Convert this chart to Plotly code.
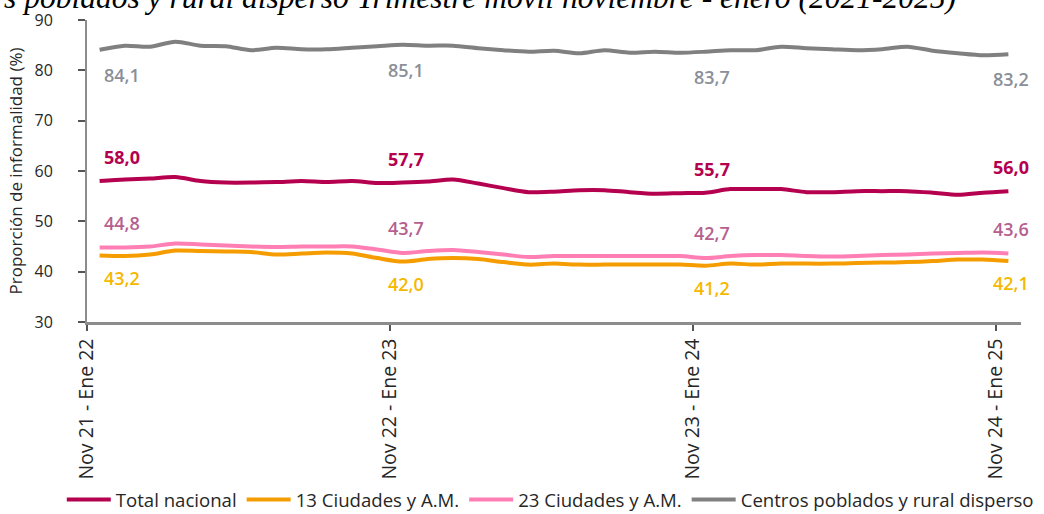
import plotly.graph_objects as go

# ---- data -------------------------------------------------------------
months = ["Ene", "Feb", "Mar", "Abr", "May", "Jun", "Jul", "Ago", "Sep", "Oct", "Nov", "Dic"]
periods = []
for k in range(37):
    m0 = 10 + k  # Nov 2021 start
    y0, mm0 = 21 + m0 // 12, m0 % 12
    m2 = m0 + 2
    y2, mm2 = 21 + m2 // 12, m2 % 12
    periods.append(f"{months[mm0]} {y0} - {months[mm2]} {y2}")

tick_labels = ["Nov 21 - Ene 22", "Nov 22 - Ene 23", "Nov 23 - Ene 24", "Nov 24 - Ene 25"]

total_nacional = [58.0, 58.3, 58.5, 58.8, 58.0, 57.7, 57.7, 57.8, 58.0, 57.8, 58.0, 57.6,
                  57.7, 57.9, 58.3, 57.5, 56.6, 55.8, 55.9, 56.2, 56.2, 55.8, 55.5, 55.6,
                  55.7, 56.4, 56.4, 56.4, 55.8, 55.8, 56.0, 56.0, 56.0, 55.7, 55.3, 55.7, 56.0]
ciudades_13 = [43.2, 43.1, 43.4, 44.2, 44.1, 44.0, 43.9, 43.4, 43.6, 43.8, 43.6, 42.7,
               42.0, 42.5, 42.7, 42.5, 41.9, 41.4, 41.6, 41.4, 41.4, 41.4, 41.4, 41.4,
               41.2, 41.6, 41.4, 41.6, 41.6, 41.6, 41.7, 41.8, 41.9, 42.1, 42.4, 42.4, 42.1]
ciudades_23 = [44.8, 44.8, 45.0, 45.6, 45.4, 45.2, 45.0, 44.9, 45.0, 45.0, 45.0, 44.4,
               43.7, 44.1, 44.3, 43.9, 43.4, 42.9, 43.1, 43.1, 43.1, 43.1, 43.1, 43.1,
               42.7, 43.1, 43.3, 43.3, 43.1, 43.0, 43.1, 43.3, 43.4, 43.6, 43.7, 43.8, 43.6]
centros_rural = [84.1, 84.9, 84.7, 85.7, 84.9, 84.8, 84.0, 84.5, 84.2, 84.2, 84.5, 84.8,
                 85.1, 84.9, 84.9, 84.4, 84.0, 83.7, 83.9, 83.4, 84.0, 83.5, 83.7, 83.5,
                 83.7, 84.0, 84.0, 84.7, 84.4, 84.2, 84.0, 84.2, 84.7, 83.9, 83.4, 83.0, 83.2]

series_names = ["Total nacional", "13 Ciudades y A.M.", "23 Ciudades y A.M.",
                "Centros poblados y rural disperso"]
label_idx = [0, 12, 24, 36]

# ---- styles -----------------------------------------------------------
series = [
    dict(name=series_names[0], y=total_nacional, color="#B4004E", lab="#B4004E", dy=24, w=700),
    dict(name=series_names[1], y=ciudades_13, color="#F59D00", lab="#F5B800", dy=-22, w=600),
    dict(name=series_names[2], y=ciudades_23, color="#FF7FB5", lab="#B5608F", dy=25, w=600),
    dict(name=series_names[3], y=centros_rural, color="#808080", lab="#8A8F99", dy=-25, w=600),
]
xshift_for = {0: 22, 12: 3, 24: 7, 36: 3}

x = list(range(len(periods)))
fig = go.Figure()
annotations = []
for s in series:
    fig.add_trace(go.Scatter(
        x=x, y=s["y"], name=s["name"], mode="lines",
        line=dict(color=s["color"], width=4, shape="spline", smoothing=0.8),
        customdata=periods, hovertemplate="%{customdata}: %{y:.1f}<extra></extra>",
    ))
    for i in label_idx:
        annotations.append(dict(
            x=i, y=s["y"][i], xref="x", yref="y", showarrow=False,
            text=f"{s['y'][i]:.1f}".replace(".", ","),
            font=dict(family="Open Sans", size=18, color=s["lab"], weight=s["w"]),
            yshift=s["dy"], xshift=xshift_for[i],
        ))

# cropped title line at very top
annotations.append(dict(
    text="s poblados y rural disperso Trimestre móvil noviembre - enero (2021-2025)",
    xref="paper", yref="paper", x=-87 / 934 + 2 / 934, y=1, xanchor="left", yanchor="bottom",
    yshift=3, showarrow=False,
    font=dict(family="Liberation Serif", size=31.5, color="#000000", style="italic"),
))

fig.update_layout(
    width=1044, height=514,
    margin=dict(l=87, r=23, t=20, b=192, autoexpand=False),
    paper_bgcolor="white", plot_bgcolor="white",
    showlegend=True,
    legend=dict(orientation="h", xref="paper", x=-0.027, xanchor="left",
                yref="paper", y=-0.589, yanchor="middle",
                bgcolor="rgba(0,0,0,0)",
                font=dict(family="Open Sans", size=18.6, color="#262626"),
                itemwidth=44, tracegroupgap=0, traceorder="normal"),
    annotations=annotations,
    font=dict(family="Open Sans", color="#404040"),
)
fig.update_xaxes(
    range=[-0.5, 36.5], tickmode="array", tickvals=[-0.5, 11.5, 23.5, 35.5], ticktext=tick_labels,
    tickangle=-90, ticks="outside", ticklen=6, tickcolor="#555555", tickwidth=1.5,
    showline=True, linecolor="#8C8C8C", linewidth=2.5, showgrid=False, zeroline=False,
    automargin=False,
    tickfont=dict(family="Open Sans", size=19.5, color="#262626"),
)
fig.update_yaxes(
    range=[30, 90], tickvals=[30, 40, 50, 60, 70, 80, 90], ticks="outside", ticklen=7,
    tickcolor="#555555", tickwidth=1.5, ticklabelstandoff=22, automargin=False,
    showline=True, linecolor="#8C8C8C", linewidth=2, showgrid=False, zeroline=False,
    tickfont=dict(family="Open Sans", size=16, color="#262626"),
    title=dict(text="Proporción de informalidad (%)", standoff=8,
               font=dict(family="Open Sans", size=17, color="#262626")),
)

fig.write_html("out.html", config={"displayModeBar": False},
               post_script="document.body.style.margin='0';")
